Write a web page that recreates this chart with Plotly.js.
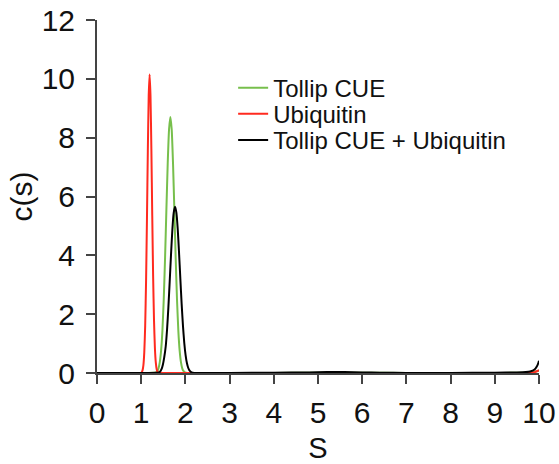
<!DOCTYPE html>
<html>
<head>
<meta charset="utf-8">
<script src="https://cdn.plot.ly/plotly-3.0.1.min.js"></script>
<style>html,body{margin:0;padding:0;background:#fff;}#chart{width:559px;height:464px;}</style>
</head>
<body>
<div id="chart"></div>
<script>
// Series names
var seriesNames = ["Tollip CUE", "Ubiquitin", "Tollip CUE + Ubiquitin"];

// Tollip CUE (green)
var tollipX = [0, 1.0, 1.33, 1.36, 1.39, 1.42, 1.45, 1.48, 1.51, 1.54, 1.57, 1.60, 1.63, 1.66, 1.69, 1.72, 1.75, 1.78, 1.81, 1.84, 1.87, 1.90, 1.93, 1.96, 1.99, 2.05, 3, 4, 5, 6, 7, 8, 9, 9.5, 9.8, 9.9, 9.95, 10];
var tollipY = [0, 0, 0.02, 0.06, 0.15, 0.36, 0.76, 1.44, 2.50, 3.92, 5.55, 7.13, 8.28, 8.70, 8.28, 7.13, 5.55, 3.92, 2.50, 1.44, 0.76, 0.36, 0.15, 0.06, 0.02, 0, 0, 0, 0.01, 0.01, 0, 0, 0, 0.01, 0.02, 0.04, 0.06, 0.08];

// Ubiquitin (red)
var ubX = [0, 1.0, 1.03, 1.05, 1.07, 1.09, 1.11, 1.13, 1.15, 1.17, 1.19, 1.21, 1.23, 1.25, 1.27, 1.29, 1.31, 1.33, 1.35, 1.37, 1.40, 1.5, 3, 5, 7, 9, 9.8, 9.9, 9.95, 10];
var ubY = [0, 0, 0.09, 0.27, 0.71, 1.60, 3.11, 5.22, 7.55, 9.43, 10.15, 9.45, 7.62, 5.35, 3.28, 1.78, 0.85, 0.36, 0.13, 0.04, 0.01, 0, 0, 0, 0, 0, 0.01, 0.03, 0.06, 0.10];

// Tollip CUE + Ubiquitin (black)
var mixX = [0, 1.0, 1.40, 1.43, 1.46, 1.49, 1.52, 1.555, 1.585, 1.615, 1.645, 1.675, 1.705, 1.735, 1.765, 1.795, 1.825, 1.855, 1.885, 1.915, 1.945, 1.975, 2.005, 2.035, 2.065, 2.10, 2.14, 2.2, 3, 4, 4.8, 5.2, 5.6, 6.0, 6.4, 7, 8, 9, 9.5, 9.7, 9.8, 9.9, 9.95, 9.98, 10];
var mixY = [0, 0, 0.02, 0.05, 0.13, 0.28, 0.52, 0.91, 1.48, 2.23, 3.12, 4.04, 4.87, 5.44, 5.65, 5.46, 4.92, 4.12, 3.22, 2.35, 1.60, 1.01, 0.60, 0.33, 0.17, 0.07, 0.02, 0, 0, 0.01, 0.02, 0.03, 0.03, 0.02, 0.01, 0, 0, 0.01, 0.02, 0.03, 0.05, 0.12, 0.22, 0.32, 0.42];

// Axis ticks
var xTicks = [0, 1, 2, 3, 4, 5, 6, 7, 8, 9, 10];
var yTicks = [0, 2, 4, 6, 8, 10, 12];

var FONT = "Liberation Sans, Arial, Helvetica, sans-serif";
var colors = ["#77bf4c", "#ff2a1f", "#000000"];

var traces = [
  {x: tollipX, y: tollipY, name: seriesNames[0], legend: "legend"},
  {x: ubX, y: ubY, name: seriesNames[1], legend: "legend2"},
  {x: mixX, y: mixY, name: seriesNames[2], legend: "legend3"}
].map(function (t, i) {
  t.type = "scatter";
  t.mode = "lines";
  t.line = {color: colors[i], width: 2, shape: "spline", smoothing: 0.5};
  t.hoverinfo = "skip";
  return t;
});

function leg(y) {
  return {x: 0.308, xanchor: "left", y: y, yanchor: "middle", bgcolor: "rgba(0,0,0,0)",
          borderwidth: 0, font: {family: FONT, size: 24, color: "#111"}};
}

var axisCommon = {
  showgrid: false, zeroline: false, showline: true, linecolor: "#444", linewidth: 2,
  ticks: "outside", ticklen: 9, tickwidth: 2, tickcolor: "#444",
  tickfont: {family: FONT, size: 30, color: "#111"}
};

var layout = {
  width: 559, height: 464,
  margin: {l: 97, r: 20, t: 20, b: 91},
  paper_bgcolor: "#fff", plot_bgcolor: "#fff",
  showlegend: true,
  legend: leg(0.807),
  legend2: leg(0.733),
  legend3: leg(0.659),
  xaxis: Object.assign({}, axisCommon, {
    range: [0, 10], tickmode: "array", tickvals: xTicks, ticktext: xTicks.map(String),
    ticklabelstandoff: 3,
    title: {text: "S", font: {family: FONT, size: 29, color: "#111"}, standoff: 12}
  }),
  yaxis: Object.assign({}, axisCommon, {
    range: [0, 12], tickmode: "array", tickvals: yTicks, ticktext: yTicks.map(String),
    ticklabelstandoff: 5,
    title: {text: "c(s)", font: {family: FONT, size: 30, color: "#111"}, standoff: 0}
  })
};

Plotly.newPlot("chart", traces, layout, {displayModeBar: false, staticPlot: true});
</script>
</body>
</html>
